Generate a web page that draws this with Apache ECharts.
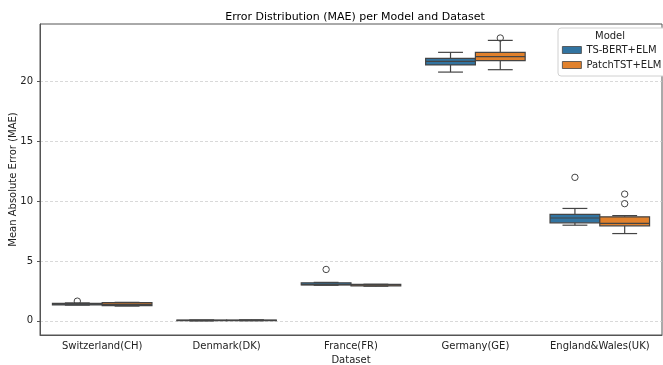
<!DOCTYPE html>
<html>
<head>
<meta charset="utf-8">
<script src="https://cdn.jsdelivr.net/npm/echarts@6/dist/echarts.min.js"></script>
<style>
    html, body { margin: 0; padding: 0; background: #fff; }
    #chart { width: 663px; height: 365px; }
</style>
</head>
<body>
<div id="chart"></div>
<script>
// data: [min, q1, median, q3, max] per dataset
let datasets = ['Switzerland(CH)', 'Denmark(DK)', 'France(FR)', 'Germany(GE)', 'England&Wales(UK)'];
let modelNames = ['TS-BERT+ELM', 'PatchTST+ELM'];
let tsBertStats = [
    [1.32, 1.34, 1.40, 1.46, 1.50],
    [0.00, 0.02, 0.04, 0.06, 0.08],
    [2.98, 3.00, 3.03, 3.18, 3.22],
    [20.80, 21.40, 21.70, 21.95, 22.45],
    [8.00, 8.20, 8.60, 8.90, 9.40]
];
let patchTstStats = [
    [1.24, 1.28, 1.38, 1.52, 1.55],
    [0.02, 0.04, 0.05, 0.07, 0.09],
    [2.90, 2.93, 3.00, 3.05, 3.06],
    [21.00, 21.75, 22.10, 22.45, 23.45],
    [7.30, 7.95, 8.15, 8.70, 8.80]
];
// [dataset index, value]
let tsBertOutliers = [[0, 1.65], [2, 4.3], [4, 12.0]];
let patchTstOutliers = [[3, 23.65], [4, 10.6], [4, 9.8]];
let yTicks = [0, 5, 10, 15, 20];

let blue = '#3274a1';
let orange = '#e1812c';
let lineColor = '#444444';
let font = 'DejaVu Sans';

let myChart = echarts.init(document.getElementById('chart'));

let toRows = function(stats) {
    return stats.map(function(s, i) {
        return [i].concat(s);
    });
};

// side: -1 left box, +1 right box
let boxRenderer = function(side, fill) {
    return function(params, api) {
        let idx = api.value(0);
        let band = api.size([1, 0])[0];
        let w = band * 0.4;
        let cx = api.coord([idx, 0])[0] + side * w / 2;
        let y = function(i) { return api.coord([idx, api.value(i)])[1]; };
        let lo = y(1), q1 = y(2), med = y(3), q3 = y(4), hi = y(5);
        let ls = { stroke: lineColor, lineWidth: 1.2 };
        return {
            type: 'group',
            children: [
                { type: 'line', shape: { x1: cx, y1: q1, x2: cx, y2: lo }, style: ls },
                { type: 'line', shape: { x1: cx, y1: q3, x2: cx, y2: hi }, style: ls },
                { type: 'line', shape: { x1: cx - w / 4, y1: lo, x2: cx + w / 4, y2: lo }, style: ls },
                { type: 'line', shape: { x1: cx - w / 4, y1: hi, x2: cx + w / 4, y2: hi }, style: ls },
                {
                    type: 'rect',
                    shape: { x: cx - w / 2, y: q3, width: w, height: Math.max(q1 - q3, 0.5) },
                    style: { fill: fill, stroke: lineColor, lineWidth: 1.2 }
                },
                { type: 'line', shape: { x1: cx - w / 2, y1: med, x2: cx + w / 2, y2: med }, style: ls }
            ]
        };
    };
};

let outlierRenderer = function(side) {
    return function(params, api) {
        let idx = api.value(0);
        let band = api.size([1, 0])[0];
        let w = band * 0.4;
        let p = api.coord([idx, api.value(1)]);
        return {
            type: 'circle',
            shape: { cx: p[0] + side * w / 2, cy: p[1], r: 3.2 },
            style: { fill: 'none', stroke: lineColor, lineWidth: 1 }
        };
    };
};

let options = {
    animation: false,
    title: {
        text: 'Error Distribution (MAE) per Model and Dataset',
        left: 350,
        textAlign: 'center',
        top: 7,
        textStyle: { fontFamily: font, fontSize: 11, fontWeight: 'normal', color: '#000' }
    },
    legend: {
        data: modelNames,
        orient: 'vertical',
        left: 558,
        top: 28,
        padding: [17, 5, 6, 4],
        itemWidth: 19,
        itemHeight: 7,
        itemGap: 5,
        icon: 'rect',
        backgroundColor: '#fff',
        borderColor: '#d0d0d0',
        borderWidth: 1,
        borderRadius: 3,
        itemStyle: { borderColor: lineColor, borderWidth: 0.8 },
        textStyle: { fontFamily: font, fontSize: 10, color: '#222' }
    },
    graphic: [{
        type: 'text',
        left: 595,
        top: 31,
        z: 100,
        style: { text: 'Model', font: '10px "DejaVu Sans"', fill: '#222' }
    }],
    grid: {
        left: 40,
        right: 1,
        top: 24,
        bottom: 30,
        containLabel: false,
        outerBoundsMode: 'none',
        show: true,
        borderColor: '#555',
        borderWidth: 1
    },
    xAxis: {
        type: 'category',
        data: datasets,
        name: 'Dataset',
        nameLocation: 'middle',
        nameGap: 19,
        nameTextStyle: { fontFamily: font, fontSize: 10, color: '#222' },
        axisLine: { onZero: false, lineStyle: { color: '#555' } },
        axisTick: { alignWithLabel: true, length: 4, lineStyle: { color: '#555' } },
        axisLabel: { interval: 0, fontFamily: font, fontSize: 10, color: '#222', margin: 6 },
        splitLine: { show: false }
    },
    yAxis: {
        type: 'value',
        min: -1.18,
        max: 24.82,
        name: 'Mean Absolute Error (MAE)',
        nameLocation: 'middle',
        nameGap: 22,
        nameMoveOverlap: false,
        nameTextStyle: { fontFamily: font, fontSize: 10, color: '#222' },
        axisLine: { show: true, lineStyle: { color: '#555' } },
        axisTick: { show: true, length: 3, customValues: yTicks, lineStyle: { color: '#555' } },
        axisLabel: { customValues: yTicks, fontFamily: font, fontSize: 10, color: '#222', margin: 7 },
        splitLine: { show: true, lineStyle: { color: '#cfcfcf', width: 0.8, type: [3, 2] } }
    },
    series: [
        {
            name: modelNames[0],
            type: 'custom',
            itemStyle: { color: blue },
            renderItem: boxRenderer(-1, blue),
            encode: { x: 0, y: [1, 2, 3, 4, 5] },
            data: toRows(tsBertStats)
        },
        {
            name: modelNames[1],
            type: 'custom',
            itemStyle: { color: orange },
            renderItem: boxRenderer(1, orange),
            encode: { x: 0, y: [1, 2, 3, 4, 5] },
            data: toRows(patchTstStats)
        },
        {
            name: 'outliers-a',
            type: 'custom',
            renderItem: outlierRenderer(-1),
            encode: { x: 0, y: 1 },
            data: tsBertOutliers
        },
        {
            name: 'outliers-b',
            type: 'custom',
            renderItem: outlierRenderer(1),
            encode: { x: 0, y: 1 },
            data: patchTstOutliers
        }
    ]
};

myChart.setOption(options);
</script>
</body>
</html>
